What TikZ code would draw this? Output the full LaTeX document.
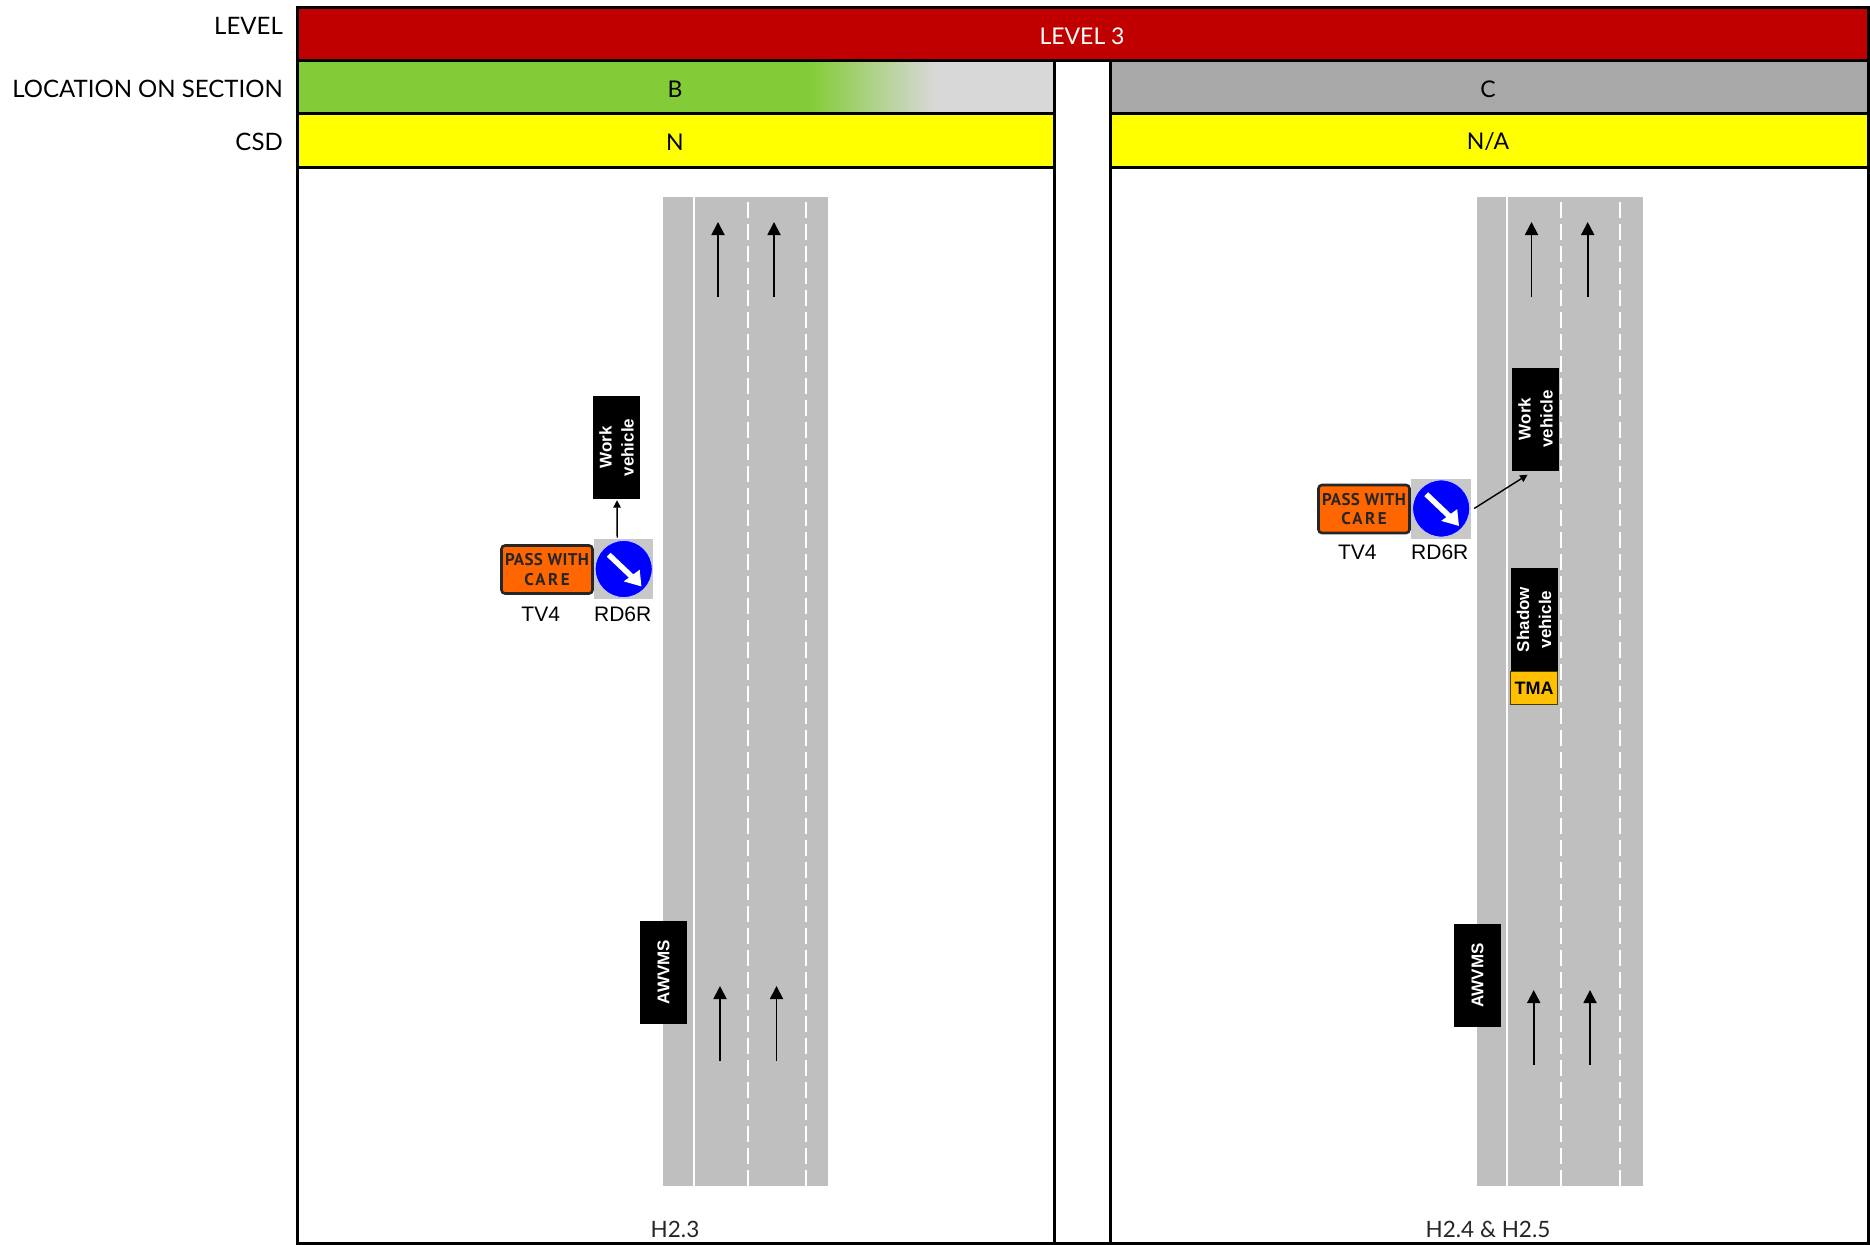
\documentclass[tikz,border=0pt]{standalone}
\usepackage{fontspec}
\setmainfont{Lato}
\newfontfamily\arialf{Liberation Sans}
\newfontfamily\signf[LetterSpace=2]{PT Sans}
\newfontfamily\signg[LetterSpace=14]{PT Sans}
\usetikzlibrary{arrows.meta,calc}
\definecolor{lvlred}{HTML}{C00000}
\definecolor{locgreen}{HTML}{84CC37}
\definecolor{locgrey}{HTML}{D8D8D8}
\definecolor{locdark}{HTML}{A8A8A8}
\definecolor{roadgrey}{HTML}{BFBFBF}
\definecolor{signorange}{HTML}{FF6600}
\definecolor{tmayellow}{HTML}{FFC000}
\definecolor{signback}{HTML}{C8C8C8}
\definecolor{csdyellow}{HTML}{FFFF00}
\definecolor{signblue}{HTML}{0000FF}
\definecolor{discrim}{HTML}{C8C8FF}
\tikzset{
  x=1pt,y=-1pt,
  rowlabel/.style={anchor=east,inner sep=0pt,font=\fontsize{24}{28}\selectfont},
  celltext/.style={inner sep=0pt,font=\fontsize{23}{27}\selectfont},
  road/.style={fill=roadgrey,draw=none},
  solidmark/.style={draw=white,line width=2pt},
  dashmark/.style={draw=white,line width=2pt,dash pattern=on 16pt off 6pt},
  lanearrow/.style={draw=black,line width=1.9pt,-{Triangle[length=13pt,width=13pt]}},
  vehicle/.style={fill=black,text=white,rotate=90,inner sep=0pt,align=center,minimum width=103pt,minimum height=47pt,font=\arialf\bfseries\fontsize{17}{22}\selectfont},
  passsign/.style={fill=signorange,draw=black!85,line width=2.6pt,rounded corners=3.5pt,inner sep=0pt,align=center,minimum width=91pt,minimum height=48pt,font=\signf\bfseries\fontsize{17}{19.5}\selectfont,text=black!85},
  signsq/.style={fill=signback,inner sep=0pt,minimum width=59.5pt,minimum height=60pt},
  signdisc/.style={circle,fill=signblue,draw=discrim,line width=0.8pt,inner sep=0pt,minimum size=57pt},
  tma/.style={fill=tmayellow,draw=black!70!tmayellow,line width=1pt,inner sep=0pt,minimum width=47pt,minimum height=33.5pt,font=\arialf\bfseries\fontsize{18}{20}\selectfont},
  signcap/.style={inner sep=0pt,font=\arialf\fontsize{21}{24}\selectfont},
  tblline/.style={draw=black,line width=3pt},
  foot/.style={inner sep=0pt,font=\fontsize{22.5}{26}\selectfont,text=black!85},
  smallarrow/.style={draw=black,line width=1.4pt,-{Triangle[length=7.5pt,width=7.5pt]}}
}
\newcommand{\rdsign}[3]{%
  \node[signsq] (#1sq) at (#2,#3) {};
  \node[signdisc] (#1) at (#2,#3) {};
  \draw[white,line width=5.5pt] ($(#1.center)+(-15,-14.3)$) -- ($(#1.center)+(9,8.5)$);
  \fill[white] ($(#1.center)+(17.7,17.4)$) -- ($(#1.center)+(16,0.7)$) -- ($(#1.center)+(0,12.4)$) -- cycle;
}
\newcommand{\lanearrow}[4]{%
  \coordinate (#1t) at (#2,#4);
  \coordinate (#1h) at (#2,#3);
  \draw[lanearrow] (#1t) -- (#1h);
}
\begin{document}
\begin{tikzpicture}
\useasboundingbox (0,0) rectangle (1870,1244);
\fill[white] (0,0) rectangle (1870,1244);

% row labels
\node[rowlabel] (lbllevel) at (283,25.5) {LEVEL};
\node[rowlabel] (lblloc) at (283,89) {LOCATION ON SECTION};
\node[rowlabel] (lblcsd) at (283,142) {CSD};

% coloured rows
\fill[lvlred] (297.5,8) rectangle (1868.5,61);
\fill[locgreen] (297.5,61) rectangle (810,114);
\shade[left color=locgreen,right color=locgrey,shading angle=90] (810,61) rectangle (935,114);
\fill[locgrey] (935,61) rectangle (1054.7,114);
\fill[locdark] (1110.5,61) rectangle (1868.5,114);
\fill[csdyellow] (297.5,114) rectangle (1054.7,167);
\fill[csdyellow] (1110.5,114) rectangle (1868.5,167);

% table lines
\draw[tblline] (297.5,1243) -- (297.5,8) -- (1868.5,8) -- (1868.5,1243) -- cycle;
\draw[tblline] (297.5,61) -- (1868.5,61);
\draw[tblline] (297.5,114) -- (1054.7,114);
\draw[tblline] (1110.5,114) -- (1868.5,114);
\draw[tblline] (297.5,167) -- (1054.7,167);
\draw[tblline] (1110.5,167) -- (1868.5,167);
\fill[white] (1056.2,167) rectangle (1109,1241.5);
\draw[tblline] (1054.7,61) -- (1054.7,1243);
\draw[tblline] (1110.5,61) -- (1110.5,1243);

\node[celltext,text=white] (level) at (1082,36) {LEVEL 3};
\node[celltext] (locb) at (675,89) {B};
\node[celltext] (locc) at (1488,89) {C};
\node[celltext] (csdb) at (675,142) {N};
\node[celltext] (csdc) at (1488,142) {N/A};

% left road
\fill[road] (663,197) rectangle (828,1186);
\draw[solidmark] (693.5,197) -- (693.5,1186);
\draw[dashmark] (747.6,1186) -- (747.6,197);
\draw[dashmark] (806.2,1186) -- (806.2,197);
\lanearrow{la}{718}{222}{297}
\lanearrow{lb}{774}{222}{297}
\lanearrow{lc}{720}{986}{1061}
\lanearrow{ld}{776.5}{986}{1061}

% right road
\fill[road] (1477,197) rectangle (1643.4,1186);
\draw[solidmark] (1507,197) -- (1507,1186);
\draw[dashmark] (1561.3,1186) -- (1561.3,197);
\draw[dashmark] (1620,1186) -- (1620,197);
\lanearrow{ra}{1531.5}{222}{297}
\lanearrow{rb}{1587.7}{222}{297}
\lanearrow{rc}{1533.7}{990}{1065}
\lanearrow{rd}{1590}{990}{1065}

% left equipment
\node[vehicle] (workl) at (616.5,447.5) {Work\\vehicle};
\node[vehicle] (awvmsl) at (663.5,972) {AWVMS};
\node[passsign] (passl) at (547,569.5) {PASS WITH\\{\signg CARE}};
\rdsign{rdl}{623.7}{569}
\node[signcap] (tvl) at (540.7,614) {TV4};
\node[signcap] (rdcl) at (622.7,614) {RD6R};
\draw[smallarrow] ([xshift=-6.5pt,yshift=1.3pt]rdlsq.north) -- ([xshift=0.5pt,yshift=-1pt]workl.west);

% right equipment
\node[vehicle] (workr) at (1535.6,419) {Work\\vehicle};
\node[vehicle] (shadow) at (1534,619.5) {Shadow\\vehicle};
\node[tma] (tmar) at (1534,688) {TMA};
\node[vehicle] (awvmsr) at (1477.6,975.5) {AWVMS};
\node[passsign] (passr) at (1364,509) {PASS WITH\\{\signg CARE}};
\rdsign{rdr}{1441.2}{508.5}
\node[signcap] (tvr) at (1357.3,552.7) {TV4};
\node[signcap] (rdcr) at (1439.8,552.7) {RD6R};
\draw[smallarrow] ([xshift=3pt]rdrsq.east) -- ([xshift=-8pt,yshift=-4pt]workr.west);

% captions
\node[foot] (capl) at (675,1229) {H2.3};
\node[foot] (capr) at (1488,1229) {H2.4 \& H2.5};
\end{tikzpicture}
\end{document}
